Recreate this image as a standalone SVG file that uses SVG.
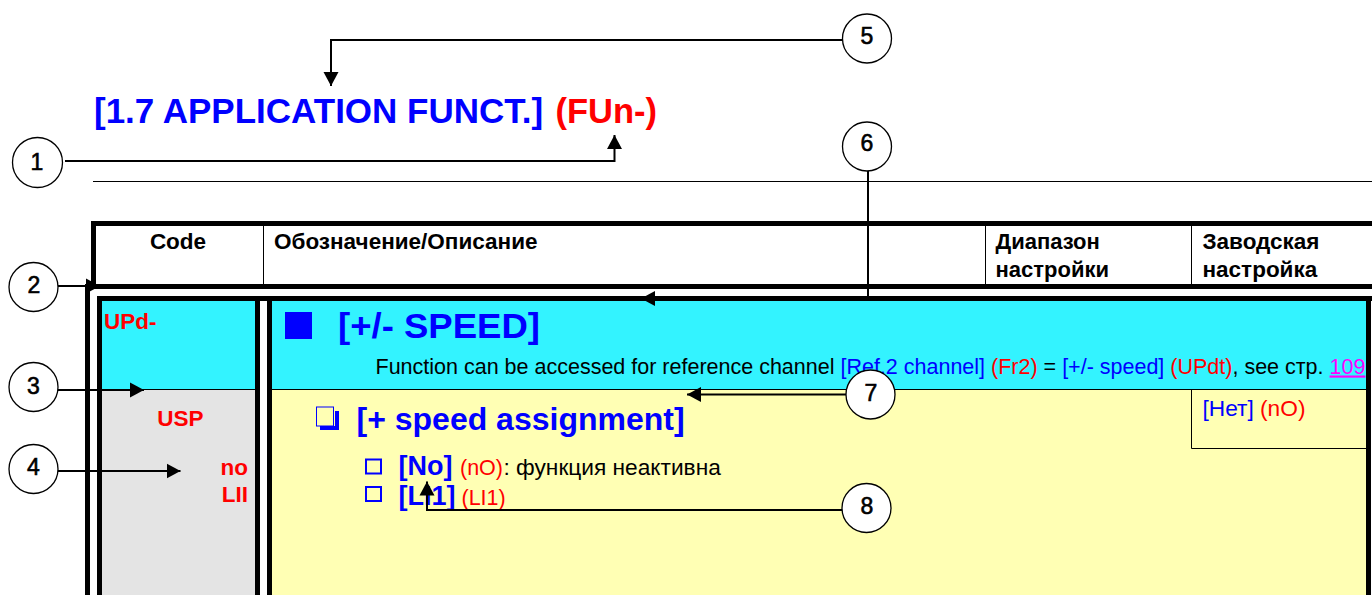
<svg xmlns="http://www.w3.org/2000/svg" width="1372" height="595" viewBox="0 0 1372 595">
<style>
text{font-family:"Liberation Sans",Arial,sans-serif}
.b{font-weight:bold}
.blue{fill:#0000ff}
.red{fill:#ff0000}
.k{fill:#000}
.h{font-size:22.500px;font-weight:bold;fill:#000}
.d{font-size:21.500px}
.num{font-size:23px;text-anchor:middle;fill:#000;stroke:#000;stroke-width:.6;font-family:"Liberation Sans",Arial,sans-serif}
.c{fill:#fff;stroke:#000;stroke-width:1.3}
.bar{fill:#000}
.conn{fill:none;stroke:#000;stroke-width:2}
</style>
<defs>
<marker id="a" markerUnits="userSpaceOnUse" markerWidth="16" markerHeight="16" refX="14" refY="8" orient="auto"><path d="M0 0.500 L14 8 L0 15.500 Z" fill="#000"/></marker>
</defs>
<rect width="1372" height="595" fill="#fff"/>
<g id="table">
<rect x="102" y="300" width="153" height="89" fill="#33f3ff"/>
<rect x="272" y="300" width="1095" height="89" fill="#33f3ff"/>
<rect x="102" y="389" width="153" height="206" fill="#e4e4e4"/>
<rect x="272" y="389" width="1095" height="206" fill="#ffffb4"/>
<rect x="93" y="181" width="1279" height="1" class="bar"/>
<rect class="bar" x="91" y="221" width="1281" height="5"/>
<rect class="bar" x="91" y="221" width="5" height="68"/>
<rect class="bar" x="85" y="284" width="1287" height="5"/>
<rect class="bar" x="85" y="284" width="5" height="311"/>
<rect class="bar" x="97" y="296" width="1275" height="5"/>
<rect class="bar" x="97" y="296" width="5" height="299"/>
<rect class="bar" x="255" y="296" width="5" height="299"/>
<rect class="bar" x="267" y="296" width="5" height="299"/>
<rect class="bar" x="1366" y="296" width="5" height="299"/>
<rect class="bar" x="263" y="226" width="1" height="58"/>
<rect class="bar" x="985" y="226" width="1" height="58"/>
<rect class="bar" x="1191" y="226" width="1" height="58"/>
<rect class="bar" x="102" y="389" width="153" height="1"/>
<rect class="bar" x="272" y="389" width="1094" height="1"/>
<path d="M1191.500 389 V448.500 H1366" fill="none" stroke="#000"/>
</g>
<g id="texts">
<text y="123" font-size="35" class="b blue"><tspan x="94">[1.7 APPLICATION FUNCT.]</tspan><tspan x="555.500" font-size="34.500" class="red">(FUn-)</tspan></text>
<text x="178" y="248.500" text-anchor="middle" class="h">Code</text>
<text x="274" y="248.500" class="h">Обозначение/Описание</text>
<text x="995.500" y="248.500" class="h" style="font-size:22px">Диапазон</text>
<text x="995.500" y="277" class="h" style="font-size:22px">настройки</text>
<text x="1202.500" y="248.500" class="h">Заводская</text>
<text x="1202.500" y="277" class="h">настройка</text>
<text x="104" y="329" font-size="22.500" class="b red">UPd-</text>
<rect x="285" y="312" width="27" height="27" class="blue"/>
<text x="338" y="338" font-size="35" class="b blue" textLength="202" lengthAdjust="spacingAndGlyphs">[+/- SPEED]</text>
<text x="375.500" y="373.500" class="d k">Function can be accessed for reference channel <tspan class="blue">[Ref.2 channel]</tspan> <tspan class="red">(Fr2)</tspan> = <tspan class="blue">[+/- speed]</tspan> <tspan class="red">(UPdt)</tspan>, see стр. <tspan fill="#ff00ff" text-decoration="underline">109</tspan></text>
<text x="1202.500" y="416" font-size="22.700"><tspan class="blue">[Нет]</tspan> <tspan class="red">(nO)</tspan></text>
<text x="180.500" y="426" text-anchor="middle" font-size="22.500" class="b red">USP</text>
<text x="248" y="474.500" text-anchor="end" font-size="22.500" class="b red">no</text>
<text x="248" y="502" text-anchor="end" font-size="22.500" class="b red">LII</text>
<text x="356.500" y="430" font-size="32" class="b blue">[+ speed assignment]</text>
<g fill="none" stroke="#0000ff">
<rect x="316.500" y="407" width="17" height="19" stroke-width="1"/>
<path d="M320 428 H337 V411" stroke-width="4"/>
<rect x="366" y="459.500" width="15" height="14" stroke-width="2"/>
<rect x="366" y="487" width="15" height="14" stroke-width="2"/>
</g>
<text y="475" class="k"><tspan x="398.500" font-size="27" class="b blue">[No]</tspan><tspan x="460" font-size="21.500" class="red">(nO)</tspan><tspan x="503.500" font-size="22.700">: функция неактивна</tspan></text>
<text y="504.500"><tspan x="398.500" font-size="27" class="b blue">[LI1]</tspan><tspan x="461.500" font-size="21.500" class="red">(LI1)</tspan></text>
</g>
<g id="connectors">
<path class="conn" marker-end="url(#a)" d="M842 40 H331 V86"/>
<path class="conn" marker-end="url(#a)" d="M65 161 H614.500 V135"/>
<path class="conn" marker-end="url(#a)" d="M58 286 H100"/>
<path class="conn" marker-end="url(#a)" d="M58 390 H144"/>
<path class="conn" marker-end="url(#a)" d="M58 471 H180.500"/>
<path class="conn" marker-end="url(#a)" d="M868 171 V298.500 H641"/>
<path class="conn" marker-end="url(#a)" d="M846 394.500 H687"/>
<path class="conn" marker-end="url(#a)" d="M842 510 H427 V481.500"/>
</g>
<g id="n1"><circle class="c" cx="37.500" cy="162.500" r="25"/><text class="num" x="37" y="170">1</text></g>
<g id="n2"><circle class="c" cx="33.500" cy="287" r="24.500"/><text class="num" x="34" y="293">2</text></g>
<g id="n3"><circle class="c" cx="33.500" cy="387" r="24.500"/><text class="num" x="33.500" y="393.500">3</text></g>
<g id="n4"><circle class="c" cx="33.500" cy="469" r="24.500"/><text class="num" x="33.500" y="474.500">4</text></g>
<g id="n5"><circle class="c" cx="867" cy="38.500" r="24.500"/><text class="num" x="867" y="43.500">5</text></g>
<g id="n6"><circle class="c" cx="867" cy="146.500" r="24.500"/><text class="num" x="867" y="150.500">6</text></g>
<g id="n7"><circle class="c" cx="870.500" cy="394.500" r="24.500"/><text class="num" x="871" y="400.500">7</text></g>
<g id="n8"><circle class="c" cx="866.500" cy="508" r="24.500"/><text class="num" x="867" y="513.500">8</text></g>
</svg>
